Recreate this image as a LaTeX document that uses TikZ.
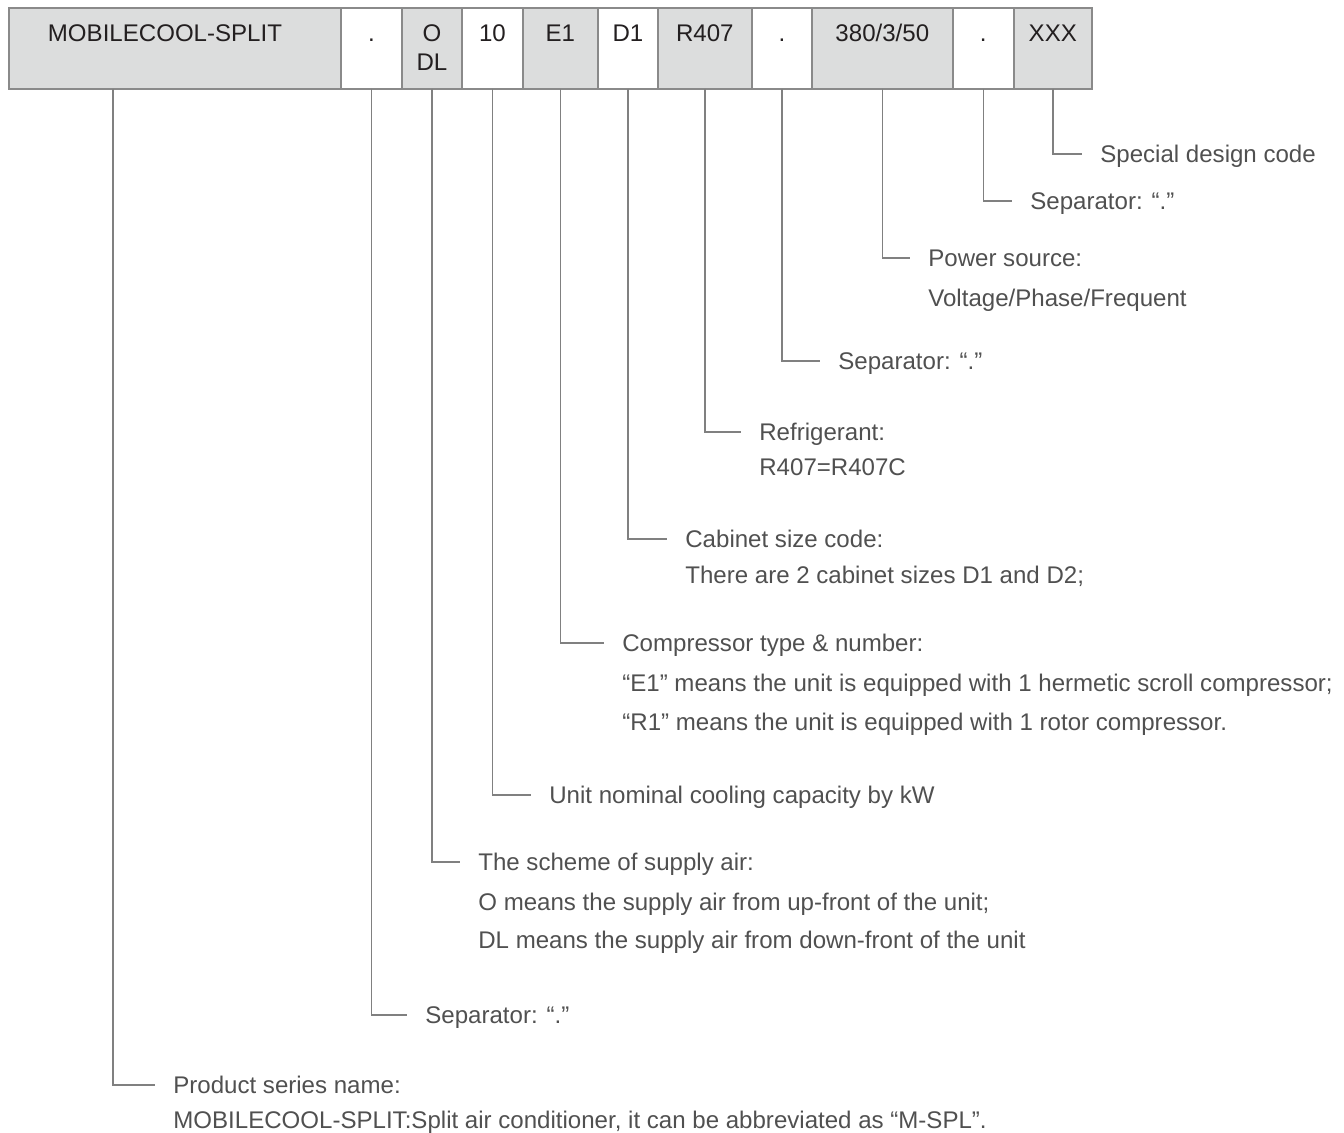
\documentclass[tikz,border=0pt]{standalone}
\usepackage{fontspec}
\setmainfont{Liberation Sans}
\usetikzlibrary{positioning}
\definecolor{cellgray}{HTML}{DCDDDD}
\definecolor{cellline}{HTML}{8A8A8A}
\definecolor{celltext}{HTML}{231F20}
\definecolor{labeltext}{HTML}{505050}
\definecolor{leadgray}{HTML}{808080}

\begin{document}
\begin{tikzpicture}[x=0.02cm,y=-0.02cm,
    cell/.style={rectangle,draw=cellline,line width=0.04cm,inner sep=0,outer sep=0,
        minimum height=1.62cm,text height=0.68cm,text depth=0.94cm,
        font=\fontsize{13.7}{16.4}\selectfont,text=celltext},
    graycell/.style={cell,fill=cellgray},
    whitecell/.style={cell,fill=white},
    lbl/.style={anchor=west,inner xsep=0.36cm,inner ysep=0,text height=0.34cm,text depth=0cm,
        font=\fontsize{13.7}{16.4}\selectfont,text=labeltext},
    lead/.style={draw=leadgray,line width=0.03cm}]
    \useasboundingbox (0,0) rectangle (1344,1132);

    % code boxes
    \node[graycell,minimum width=6.64cm,anchor=north west] (cmob) at (9,8) {\hspace*{-0.4cm}MOBILECOOL-SPLIT};
    \node[whitecell,minimum width=1.22cm,right=0pt of cmob] (csepa) {.};
    \node[graycell,minimum width=1.2cm,right=0pt of csepa] (cair) {\begin{tabular}[t]{@{}c@{}}O\\DL\end{tabular}};
    \node[whitecell,minimum width=1.22cm,right=0pt of cair] (ccap) {10};
    \node[graycell,minimum width=1.5cm,right=0pt of ccap] (ccomp) {E1};
    \node[whitecell,minimum width=1.2cm,right=0pt of ccomp] (ccab) {D1};
    \node[graycell,minimum width=1.88cm,right=0pt of ccab] (cref) {R407};
    \node[whitecell,minimum width=1.2cm,right=0pt of cref] (csepb) {.};
    \node[graycell,minimum width=2.82cm,right=0pt of csepb] (cpow) {380/3/50};
    \node[whitecell,minimum width=1.22cm,right=0pt of cpow] (csepc) {.};
    \node[graycell,minimum width=1.56cm,right=0pt of csepc] (cspec) {XXX};

    % explanations
    \node[lbl] (tspec) at (1082,154) {Special design code};
    \node[lbl] (tsepc) at (1012,201) {Separator: “.”};
    \node[lbl] (tpow) at (910,258) {Power source:};
    \node[lbl] (tpow2) at ([yshift=-0.8cm]tpow.west) {Voltage/Phase/Frequent};
    \node[lbl] (tsepb) at (820,361) {Separator: “.”};
    \node[lbl] (tref) at (741,432) {Refrigerant:};
    \node[lbl] (tref2) at ([yshift=-0.7cm]tref.west) {R407=R407C};
    \node[lbl] (tcab) at (667,539) {Cabinet size code:};
    \node[lbl] (tcab2) at ([yshift=-0.72cm]tcab.west) {There are 2 cabinet sizes D1 and D2;};
    \node[lbl] (tcomp) at (604,643) {Compressor type \& number:};
    \node[lbl] (tcomp2) at ([yshift=-0.8cm]tcomp.west) {“E1” means the unit is equipped with 1 hermetic scroll compressor;};
    \node[lbl] (tcomp3) at ([yshift=-1.58cm]tcomp.west) {“R1” means the unit is equipped with 1 rotor compressor.};
    \node[lbl] (tcap) at (531,795) {Unit nominal cooling capacity by kW};
    \node[lbl] (tair) at (460,862) {The scheme of supply air:};
    \node[lbl] (tair2) at ([yshift=-0.8cm]tair.west) {O means the supply air from up-front of the unit;};
    \node[lbl] (tair3) at ([yshift=-1.56cm]tair.west) {DL means the supply air from down-front of the unit};
    \node[lbl] (tsepa) at (407,1015) {Separator: “.”};
    \node[lbl] (tmob) at (155,1085) {Product series name:};
    \node[lbl] (tmob2) at ([yshift=-0.7cm]tmob.west) {MOBILECOOL-SPLIT:Split air conditioner, it can be abbreviated as “M-SPL”.};

    % leaders
    \draw[lead] (cspec.south) |- (tspec.west);
    \draw[lead] (csepc.south) |- (tsepc.west);
    \draw[lead] (cpow.south) |- (tpow.west);
    \draw[lead] (csepb.south) |- (tsepb.west);
    \draw[lead] (cref.south) |- (tref.west);
    \draw[lead] (ccab.south) |- (tcab.west);
    \draw[lead] (ccomp.south) |- (tcomp.west);
    \draw[lead] (ccap.south) |- (tcap.west);
    \draw[lead] (cair.south) |- (tair.west);
    \draw[lead] (csepa.south) |- (tsepa.west);
    \draw[lead] ([xshift=-1.24cm]cmob.south) |- (tmob.west);
\end{tikzpicture}
\end{document}
